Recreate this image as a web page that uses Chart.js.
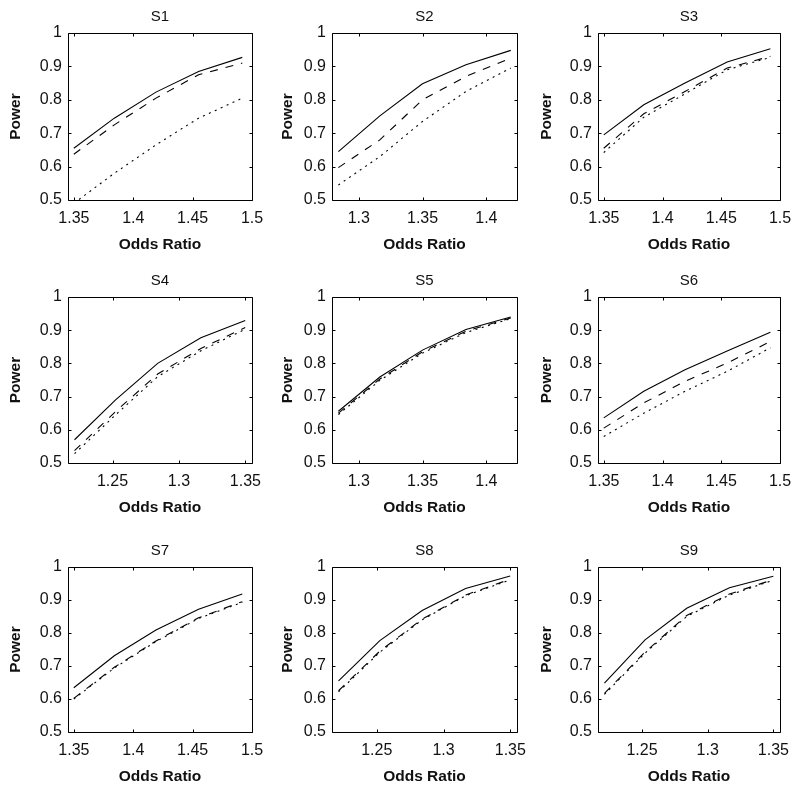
<!DOCTYPE html>
<html><head><meta charset="utf-8">
<script src="https://cdn.jsdelivr.net/npm/chart.js@4.4.1/dist/chart.umd.min.js"></script>
<style>
html,body{margin:0;padding:0;background:#fff;}
#wrap{position:relative;width:800px;height:792px;overflow:hidden;background:#fff;}
#wrap canvas{position:absolute;}
</style></head><body><div id="wrap"></div>
<script>
// ---- data ----
const oddsA = [1.3499, 1.3840, 1.4191, 1.4550, 1.4918];
const oddsB = [1.2840, 1.3165, 1.3499, 1.3840, 1.4191];
const oddsC = [1.2214, 1.2523, 1.2840, 1.3165, 1.3499];
const ticksA = [1.35, 1.4, 1.45, 1.5];
const ticksB = [1.3, 1.35, 1.4];
const ticksC = [1.25, 1.3, 1.35];
const limA = [1.345, 1.5];
const limB = [1.279, 1.424];
const limC = [1.2165, 1.355];
const powerTicks = [0.5, 0.6, 0.7, 0.8, 0.9, 1];

const s1Solid  = [0.655, 0.745, 0.823, 0.885, 0.927];
const s1Dashed = [0.637, 0.725, 0.805, 0.875, 0.910];
const s1Dotted = [0.490, 0.580, 0.665, 0.745, 0.805];
const s2Solid  = [0.645, 0.752, 0.848, 0.905, 0.948];
const s2Dashed = [0.597, 0.680, 0.800, 0.870, 0.925];
const s2Dotted = [0.545, 0.630, 0.735, 0.825, 0.895];
const s3Solid  = [0.695, 0.785, 0.850, 0.913, 0.953];
const s3Dashed = [0.655, 0.758, 0.825, 0.895, 0.930];
const s3Dotted = [0.642, 0.748, 0.818, 0.890, 0.927];
const s4Solid  = [0.570, 0.690, 0.800, 0.877, 0.929];
const s4Dashed = [0.537, 0.655, 0.768, 0.845, 0.908];
const s4Dotted = [0.528, 0.645, 0.760, 0.838, 0.903];
const s5Solid  = [0.656, 0.759, 0.840, 0.902, 0.940];
const s5Dashed = [0.650, 0.753, 0.835, 0.897, 0.937];
const s5Dotted = [0.646, 0.749, 0.831, 0.893, 0.935];
const s6Solid  = [0.636, 0.716, 0.781, 0.837, 0.894];
const s6Dashed = [0.605, 0.681, 0.746, 0.801, 0.866];
const s6Dotted = [0.580, 0.650, 0.716, 0.776, 0.847];
const s7Solid  = [0.634, 0.731, 0.809, 0.872, 0.918];
const s7Dashed = [0.602, 0.696, 0.776, 0.846, 0.895];
const s7Dotted = [0.600, 0.694, 0.774, 0.844, 0.893];
const s8Solid  = [0.655, 0.777, 0.868, 0.935, 0.973];
const s8Dashed = [0.625, 0.745, 0.842, 0.915, 0.963];
const s8Dotted = [0.622, 0.742, 0.840, 0.913, 0.961];
const s9Solid  = [0.648, 0.779, 0.875, 0.937, 0.972];
const s9Dashed = [0.617, 0.742, 0.853, 0.918, 0.962];
const s9Dotted = [0.614, 0.739, 0.850, 0.915, 0.960];

const panels = [
  {title:'S1', odds:oddsA, ticks:ticksA, lim:limA, solid:s1Solid, dashed:s1Dashed, dotted:s1Dotted},
  {title:'S2', odds:oddsB, ticks:ticksB, lim:limB, solid:s2Solid, dashed:s2Dashed, dotted:s2Dotted},
  {title:'S3', odds:oddsA, ticks:ticksA, lim:limA, solid:s3Solid, dashed:s3Dashed, dotted:s3Dotted},
  {title:'S4', odds:oddsC, ticks:ticksC, lim:limC, solid:s4Solid, dashed:s4Dashed, dotted:s4Dotted},
  {title:'S5', odds:oddsB, ticks:ticksB, lim:limB, solid:s5Solid, dashed:s5Dashed, dotted:s5Dotted},
  {title:'S6', odds:oddsA, ticks:ticksA, lim:limA, solid:s6Solid, dashed:s6Dashed, dotted:s6Dotted},
  {title:'S7', odds:oddsA, ticks:ticksA, lim:limA, solid:s7Solid, dashed:s7Dashed, dotted:s7Dotted},
  {title:'S8', odds:oddsC, ticks:ticksC, lim:limC, solid:s8Solid, dashed:s8Dashed, dotted:s8Dotted},
  {title:'S9', odds:oddsC, ticks:ticksC, lim:limC, solid:s9Solid, dashed:s9Dashed, dotted:s9Dotted}
];

// ---- layout ----
const colLeft = [68, 332, 598];
const colWidth = [184, 185, 182];
const rowTop = [33, 297, 567];
const rowHeight = [167, 166, 165];
const yTitlePad = [6.2, 14.6, 7.4];
const Y_W = 68, TITLE_H = 33, X_H = 62, PAD_R = 14;
const FONT = '"Liberation Sans", Arial, Helvetica, sans-serif';
const TXT = '#111';

const frame = {
  id: 'frame',
  afterDatasetsDraw(chart) {
    const {ctx, chartArea: a, scales: {x, y}} = chart;
    ctx.save();
    ctx.strokeStyle = '#000';
    ctx.lineWidth = 1;
    const L = Math.round(a.left) + 0.5, R = Math.round(a.right) + 0.5;
    const T = Math.round(a.top) + 0.5, B = Math.round(a.bottom) + 0.5;
    const tl = 3;
    ctx.beginPath();
    ctx.rect(L, T, R - L, B - T);
    x.ticks.forEach(t => {
      const px = Math.round(x.getPixelForValue(t.value)) + 0.5;
      ctx.moveTo(px, B); ctx.lineTo(px, B - tl);
      ctx.moveTo(px, T); ctx.lineTo(px, T + tl);
    });
    y.ticks.forEach(t => {
      const py = Math.round(y.getPixelForValue(t.value)) + 0.5;
      ctx.moveTo(L, py); ctx.lineTo(L + tl, py);
      ctx.moveTo(R, py); ctx.lineTo(R - tl, py);
    });
    ctx.stroke();
    ctx.restore();
  }
};

const wrap = document.getElementById('wrap');
panels.forEach((p, i) => {
  const c = i % 3, r = Math.floor(i / 3);
  const cv = document.createElement('canvas');
  const W = Y_W + colWidth[c] + PAD_R, H = TITLE_H + rowHeight[r] + X_H;
  cv.width = W; cv.height = H;
  cv.style.width = W + 'px'; cv.style.height = H + 'px';
  cv.style.left = (colLeft[c] - Y_W) + 'px';
  cv.style.top = (rowTop[r] - TITLE_H) + 'px';
  wrap.appendChild(cv);
  const mk = (vals, dash) => ({
    data: p.odds.map((o, k) => ({x: o, y: vals[k]})),
    borderColor: '#000', borderWidth: 1.1, borderDash: dash,
    pointRadius: 0, tension: 0, fill: false
  });
  new Chart(cv, {
    type: 'line',
    data: {datasets: [mk(p.solid, []), mk(p.dashed, [8, 8]), mk(p.dotted, [2, 4.5])]},
    plugins: [frame],
    options: {
      responsive: false, animation: false, devicePixelRatio: 1,
      layout: {padding: {left: 0, top: 0, right: PAD_R, bottom: 0}},
      plugins: {
        legend: {display: false}, tooltip: {enabled: false},
        title: {display: true, text: p.title, fullSize: false, color: TXT,
          font: {family: FONT, size: 15, weight: 'normal', lineHeight: 1.2}, padding: {top: 7.5, bottom: 7.5}}
      },
      scales: {
        x: {
          type: 'linear', min: p.lim[0], max: p.lim[1],
          grid: {display: false, drawTicks: false}, border: {display: false},
          afterBuildTicks: s => { s.ticks = p.ticks.map(v => ({value: v})); },
          afterFit: s => { s.height = X_H; s.paddingLeft = 0; s.paddingRight = 0; },
          ticks: {padding: 8.5, color: TXT, font: {family: FONT, size: 16}, maxRotation: 0, autoSkip: false,
            callback: v => String(+Number(v).toFixed(3))},
          title: {display: true, text: 'Odds Ratio', color: TXT,
            font: {family: FONT, size: 15.5, weight: 'bold'}, padding: {top: 0, bottom: 8.2}}
        },
        y: {
          type: 'linear', min: 0.5, max: 1,
          grid: {display: false, drawTicks: false}, border: {display: false},
          afterBuildTicks: s => { s.ticks = powerTicks.map(v => ({value: v})); },
          afterFit: s => { s.width = Y_W; s.paddingTop = 0; s.paddingBottom = 0; },
          ticks: {padding: 6, color: TXT, font: {family: FONT, size: 16}, autoSkip: false,
            callback: v => String(+Number(v).toFixed(3))},
          title: {display: true, text: 'Power', color: TXT,
            font: {family: FONT, size: 15.5, weight: 'bold'}, padding: {top: yTitlePad[c], bottom: 0}}
        }
      }
    }
  });
});
</script></body></html>
